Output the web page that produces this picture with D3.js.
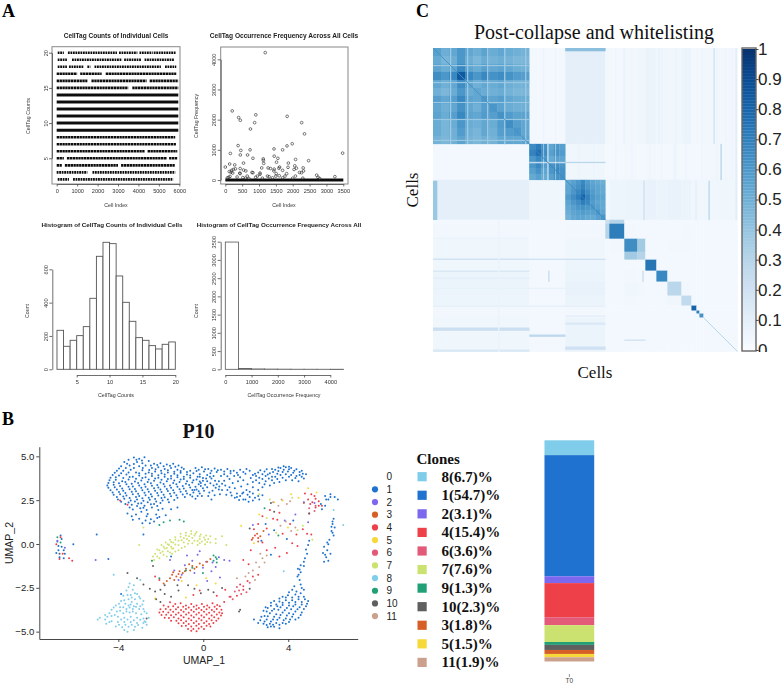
<!DOCTYPE html>
<html><head><meta charset="utf-8">
<script src="https://d3js.org/d3.v7.min.js"></script>
<style>html,body{margin:0;background:#fff}svg{display:block}
text{font-family:"Liberation Sans",Arial,sans-serif}
.serif{font-family:"Liberation Serif",serif}</style></head><body>
<script>
// ---------- Panel A data ----------
const countLevels=[20,19,18,17,16,15,14,13,12,11,10,9,8,7,6,5,4,3,2];
const countRuns=[
[[50,350],[550,2950],[3050,3950],[4050,4700],[4750,5850]],
[[50,500],[750,3200],[3300,4150],[4300,5750]],
[[50,500],[600,1300],[1500,1650],[1850,5100],[5300,5850]],
[[0,1000],[1150,2200],[2400,5850]],
[[0,1500],[1700,4400],[4550,5950]],
[[0,3500],[3700,5950]],
[[0,5950]],[[0,5950]],[[0,5950]],[[0,5950]],[[0,5950]],[[0,5950]],
[[0,5800]],[[0,5850]],
[[0,4300],[4450,5900]],
[[0,350],[500,5400],[5500,5900]],
[[0,250],[400,3000],[3150,5800]],
[[0,1500],[1750,5800]],
[[50,600],[800,5700]]];
const denseLevels=[14,13,12,11,10,9];
const freqX=[1185,205,395,445,905,870,745,1835,2265,2350,380,460,445,150,735,660,820,1445,1700,1830,1985,3480,2470,2085,1125,1130,1140,1450,1560,1520,1870,540,130,280,0,1080,1270,1340,1450,1610,1590,1700,1860,2040,2060,2110,2310,2320,2200,2260,2710,2750,3250,120,170,220,430,440,190,240,300,440,540,610,790,820,1030,1030,950,650,1250,1300,1440,1500,1510,1600,1820,1770,2080,100,140,60,350,520,600,700,900,1100,1400,1700,2000,2300,2800];
const freqY=[4220,2290,2070,1980,2160,1900,1690,2110,1900,1530,1140,980,830,880,1000,830,720,1030,1000,1130,1200,890,640,680,700,650,550,790,720,590,560,560,530,500,430,400,400,380,360,430,390,320,420,350,470,390,400,300,250,240,160,90,110,280,260,230,230,210,320,350,370,380,330,300,250,240,230,190,130,130,130,110,300,130,210,140,210,130,130,90,120,70,100,80,60,50,90,60,70,70,60,60,50];
const freqBand=[0,3500];
const histCounts=[234,138,174,202,256,426,678,762,754,560,402,288,190,174,142,122,150,164];
const histCountEdges=d3.range(2,20);
const histFreq=[3490,22,10,6,4,2,2,1,1];
const histFreqEdges=[0,500,1000,1500,2000,2500,3000,3500,4000];

// ---------- Panel C data ----------
const heatEdges=[0,96,132,172,176,191,204,212,223,234,248,258,263,266,270,304];
const heatMeans=[
[0,2,9,3,2,3,4,6,4,4,5,3,3,3,3],
[2,0,4,2,2,3,2,3,2,2,2,2,2,2,3],
[9,4,0,2,5,6,6,7,6,7,6,4,4,4,4],
[2,2,2,22,30,2,2,2,2,2,2,2,2,2,2],
[3,2,3,30,70,3,2,2,2,2,3,2,2,2,2],
[4,2,4,2,3,64,36,2,2,3,3,2,2,2,2],
[4,2,4,2,2,36,30,2,2,2,2,2,2,2,2],
[4,2,5,2,2,2,2,74,2,2,2,2,2,2,2],
[6,2,6,2,2,3,2,2,66,2,2,2,2,2,2],
[6,2,7,2,2,4,3,2,2,28,3,2,2,2,2],
[5,2,6,2,2,3,2,2,2,4,26,2,2,2,2],
[3,2,3,2,2,2,2,2,2,2,2,80,2,2,2],
[3,2,3,2,2,2,2,2,2,2,2,2,70,2,2],
[3,2,3,2,2,2,2,2,2,2,2,2,2,62,2],
[4,2,6,2,2,2,2,2,2,2,2,2,2,2,2]];
const blockA=[
[56,50,53,60,53,50,55,51,53,51,49,48],
[52,47,50,60,50,46,51,48,50,48,46,46],
[55,51,54,66,55,51,56,53,55,53,50,49],
[64,60,66,84,66,60,66,62,64,62,58,57],
[53,49,53,64,55,49,53,51,53,50,48,48],
[49,46,51,60,51,53,51,49,51,48,46,46],
[57,53,57,66,55,53,60,55,57,53,51,51],
[53,49,53,62,53,49,57,60,55,51,49,49],
[55,51,57,66,55,53,58,57,62,58,55,55],
[51,47,51,60,51,49,53,51,58,64,57,53],
[51,47,49,58,49,47,53,49,57,58,60,53],
[48,46,49,55,48,46,49,48,53,53,53,55]];
const blockB=[[64,70,62,54,60,56],[68,76,64,56,62,58],[60,66,60,52,56,54],[60,66,58,62,64,60],[56,62,54,60,66,62],[52,56,52,56,62,62]];
const blockC=[
[52,56,60,66,58,54,52,50],[54,58,62,68,60,56,54,52],[54,60,66,72,64,58,54,52],[58,64,70,80,68,60,56,54],
[54,60,64,70,66,58,54,52],[52,56,60,62,60,60,56,52],[50,54,56,58,56,56,60,54],[48,52,54,54,52,52,56,60]];
const blockRanges=[[0,96],[96,132],[132,172]];
// [horizontal?, position, from, to, thickness, value]
const heatLines=[
[1,211,0,172,1,20],[1,223,0,96,1,16],[0,115,223,234,1,24],[0,209,223,234,1,24],
[1,280,0,96,3,22],[1,287,96,132,2,27],[1,299,132,172,3,20],[1,302,0,96,2,15],[1,275,132,172,2,14],
[1,292,191,212,1,20],[0,0,133,172,4,38],[1,0,132,172,3,42],[0,287,96,132,1,30],[0,280,0,96,1,20],
[0,275,133,172,1,28],[0,210,133,172,1,22],[1,114,132,172,1,28],[0,302,0,172,1,12],
[1,258,0,172,1,9],[1,240,0,172,1,8],[1,268,132,172,1,10],[1,230,0,96,1,10],[0,65,172,304,1,6],
[0,190,0,96,1,7],[0,225,0,96,1,8],[0,255,0,96,1,7],[0,240,96,132,1,6],[0,262,133,172,1,9]];
const heatStripes=[17,34,54,71,92];
const heatDiag=[[0,96,62],[96,132,66],[132,172,66],[270,304,32]];
const heatFaintCols=[110,122,145,160,182,198,216,228,242,252,268,283,292,298,20,40,60,80];
const colorTicks=[0,.1,.2,.3,.4,.5,.6,.7,.8,.9,1];

// ---------- Panel B data ----------
const umapTicksX=[-4,0,4];
const umapTicksY=[-5,-2.5,0,2.5,5];
const legendLabels=["0","1","2","3","4","5","6","7","8","9","10","11"];
const cloneIds=[8,1,2,4,6,7,9,10,3,5,11];
const clonePct=[6.7,54.7,3.1,15.4,3.6,7.6,1.3,2.3,1.8,1.5,1.9];
const colors={1:"#1f72cf",2:"#7b68ee",3:"#d65f27",4:"#ee4049",5:"#f6d83a",6:"#e35a78",7:"#cbe270",8:"#7fcdea",9:"#21a077",10:"#5f5f5f",11:"#cba08c"};
const c1=[-3.3,4.95,-3.05,4.88,-2.8,4.97,-3.55,4.82,-3.75,4.7,-3.15,4.7,-2.6,4.75,-2.35,4.6,-2.05,4.62,-1.75,4.55,-1.45,4.6,-1.2,4.5,-3.9,4.45,-3.5,4.5,-3.05,4.45,-2.75,4.5,-2.45,4.35,-2.15,4.4,-1.85,4.3,-1.55,4.35,-1.25,4.25,-0.95,4.3,-0.65,4.2,-4.1,4.2,-3.8,4.2,-3.45,4.25,-3.2,4.1,-2.9,4.22,-2.6,4.1,-2.3,4.15,-2,4.05,-1.7,4.1,-1.4,4.02,-1.1,4.08,-0.8,3.98,-0.5,4.05,-0.2,4,-4.3,3.95,-4,3.92,-3.65,3.98,-3.35,3.85,-3.05,3.92,-2.75,3.82,-2.45,3.9,-2.15,3.8,-1.85,3.86,-1.55,3.76,-1.25,3.82,-0.95,3.72,-0.65,3.8,-0.35,3.7,-0.05,3.78,-4.45,3.65,-4.15,3.68,-3.85,3.6,-3.55,3.7,-3.25,3.58,-2.95,3.64,-2.65,3.55,-2.35,3.62,-2.05,3.52,-1.75,3.6,-1.45,3.5,-1.15,3.56,-0.85,3.46,-0.55,3.52,-0.25,3.42,-4.55,3.35,-4.25,3.4,-3.95,3.32,-3.65,3.42,-3.35,3.3,-3.05,3.36,-2.75,3.28,-2.45,3.34,-2.15,3.24,-1.85,3.3,-1.55,3.22,-1.25,3.28,-0.95,3.18,-0.65,3.24,-0.35,3.12,-0.05,3.2,-4.4,3.08,-4.1,3.12,-3.8,3.05,-3.5,3.14,-3.2,3.02,-2.9,3.08,-2.6,3,-2.3,3.06,-2,2.98,-1.7,3.04,-1.4,2.94,-1.1,3,-0.8,2.9,-0.5,2.96,-4.25,2.82,-3.95,2.86,-3.65,2.78,-3.35,2.86,-3.05,2.75,-2.75,2.8,-2.45,2.72,-2.15,2.78,-1.85,2.68,-1.55,2.74,-1.25,2.65,-0.9,2.7,-4.05,2.55,-3.75,2.6,-3.45,2.5,-3.15,2.56,-2.85,2.48,-2.55,2.54,-2.25,2.44,-1.95,2.5,-1.65,2.4,-3.7,2.3,-3.4,2.25,-3.1,2.32,-2.8,2.2,-2.5,2.28,-2.2,2.18,-3.35,1.98,-3,2.05,-2.7,1.95,-1.95,2.02,-3.6,1.75,-3.2,1.7,-2.65,1.72,-2.25,1.7,-1.55,2,-1.25,2.1,-3.05,1.45,-2.75,1.35,-2.5,1.42,-2.2,1.5,-2.9,1.2,-2.55,1.2,-2.1,1.55,-1.8,1.65,
-0.4,4.35,-0.1,4.4,0.2,4.3,0.5,4.32,0.8,4.25,1.1,4.3,1.4,4.2,1.7,4.25,0,4.15,0.3,4.05,0.6,4.12,0.95,4,1.25,4.05,1.6,3.95,-0.15,3.5,0.15,3.6,0.35,3.75,0.45,3.35,0.7,3.6,0.15,3.25,0.4,3.05,0.7,3.12,-0.2,2.9,1,3.35,1.25,2.95,1.45,2.65,1.7,2.75,1.95,2.55,2.15,2.7,2.4,2.65,2.15,3,0.2,2.75,-0.4,2.6,
2.3,3.95,2.55,4.1,2.85,4.15,3.1,4.05,3.35,4.25,3.6,4.35,3.85,4.4,4.1,4.35,4.35,4.28,4.6,4.2,4.8,4,2.6,3.8,2.9,3.9,3.2,3.85,3.45,4.02,3.7,4.12,3.95,4.15,4.2,4.08,4.5,3.95,4.7,3.75,2.3,3.55,2.6,3.5,2.9,3.6,3.2,3.65,3.45,3.72,3.7,3.8,4,3.85,4.3,3.78,2.75,3.25,3.1,3.35,1.85,2.95,5.5,2.3,5.7,2.75,5.95,2.85,6.15,2.7,6.3,2.55,5.85,2.55,5.55,2,5.7,2.2,
6.1,1.45,6.05,1.15,6.15,0.95,6,0.75,6.1,0.5,5.9,0.25,5.85,0,5.65,-0.15,5.8,-0.35,5.6,-0.5,5.95,-0.55,5.75,-0.75,5.65,-1,5.85,-0.95,4.95,0.2,4.9,-0.05,4.8,-0.3,4.85,-0.55,4.75,-0.8,4.7,-1,4.55,-1.2,4.42,-1.4,4.55,-1.6,4.4,-1.85,4.5,-2.05,
4.55,-2.3,4.25,-2.4,4.7,-2.6,4.35,-2.7,4,-2.75,4.7,-3,4.45,-3,4.15,-3.05,3.85,-3.05,3.55,-3.1,4.9,-3.25,4.6,-3.3,4.3,-3.3,4,-3.35,3.7,-3.35,3.4,-3.45,3.15,-3.35,4.8,-3.55,4.5,-3.6,4.2,-3.55,3.9,-3.65,3.6,-3.6,3.3,-3.7,3,-3.65,2.8,-3.8,4.6,-3.9,4.3,-3.85,4,-3.95,3.7,-3.9,3.4,-4,3.1,-3.95,2.85,-4.1,4.45,-4.2,4.15,-4.15,3.85,-4.25,3.55,-4.2,3.25,-4.3,2.95,-4.3,2.65,-4.35,2.35,-4.3,4,-4.45,3.7,-4.5,3.4,-4.5,3.1,-4.55,2.8,-4.55,3.55,-4.8,3.3,-4.72,3,-4.75,2.55,-4.5,
-6.75,0.5,-6.85,-0.1,-6.6,-0.35,-6.95,-0.5,-6.8,-0.75,-6.15,0,-2.85,0.55,-4.5,-0.85,-5.05,0.55,-1.55,-0.7,-3.9,-2.85,2.9,1.15,3.3,0.8,2.7,0.2,3.15,-0.6,3.9,0.3,4.2,1.35,4.7,2.4];
const c1b=[-3.18,4.82,-2.92,4.78,-3.62,4.6,-3.3,4.58,-2.9,4.62,-2.5,4.5,-2.2,4.52,-1.9,4.46,-1.6,4.48,-1.35,4.42,-1.05,4.38,-4,4.32,-3.68,4.36,-3.3,4.35,-2.88,4.36,-2.58,4.24,-2.28,4.28,-2.02,4.2,-1.7,4.22,-1.4,4.14,-1.1,4.18,-0.8,4.12,-0.35,4.18,-4.2,4.08,-3.9,4.06,-3.55,4.1,-3.05,4.06,-2.75,4.02,-2.45,4.02,-2.15,3.94,-1.85,3.98,-1.55,3.9,-1.25,3.94,-0.95,3.86,-0.65,3.92,-0.3,3.86,-4.4,3.8,-4.15,3.82,-3.8,3.78,-3.5,3.84,-3.2,3.74,-2.9,3.78,-2.6,3.7,-2.3,3.76,-2,3.68,-1.7,3.72,-1.4,3.64,-1.1,3.7,-0.8,3.6,-0.5,3.66,-0.2,3.58,-4.5,3.5,-4.25,3.54,-4,3.48,-3.7,3.56,-3.4,3.46,-3.1,3.5,-2.8,3.42,-2.5,3.48,-2.2,3.38,-1.9,3.44,-1.6,3.36,-1.3,3.42,-1,3.32,-0.7,3.38,-0.4,3.28,-0.15,3.32,-4.5,3.22,-4.2,3.26,-3.85,3.18,-3.55,3.28,-3.25,3.16,-2.95,3.22,-2.65,3.14,-2.35,3.2,-2.05,3.12,-1.75,3.16,-1.45,3.08,-1.15,3.14,-0.85,3.04,-0.55,3.1,-0.25,3.02,-4.3,2.96,-4,2.98,-3.7,2.92,-3.4,3,-3.1,2.88,-2.8,2.94,-2.5,2.86,-2.2,2.92,-1.9,2.82,-1.6,2.88,-1.3,2.8,-1,2.84,-0.65,2.82,-4.1,2.7,-3.8,2.72,-3.5,2.64,-3.2,2.7,-2.9,2.62,-2.6,2.66,-2.3,2.58,-2,2.64,-1.7,2.55,-1.4,2.52,-3.9,2.42,-3.55,2.38,-3.25,2.44,-2.95,2.34,-2.65,2.4,-2.35,2.3,-2.05,2.35,-3.5,2.1,-3.15,2.18,-2.85,2.08,-2.45,2.1,-2.15,1.95,-3.4,1.6,-2.95,1.85,-3.35,1.4,-2.35,1.3,-2.7,1.6,
-0.25,4.25,0.05,4.28,0.35,4.2,0.65,4.22,0.95,4.15,1.25,4.18,1.55,4.08,1.85,4.12,0.15,3.95,0.45,3.9,0.8,3.9,1.1,3.88,0.1,3.75,-0.05,3.62,0.3,3.48,0.6,3.42,0.85,3.45,0,3.05,0.25,2.95,0.55,3.22,0.85,3.1,-0.1,2.75,1.1,3.1,1.55,2.9,1.85,2.55,2.3,2.5,2.55,2.75,
2.45,3.9,2.75,4,3,3.98,3.25,4.12,3.5,4.18,3.75,4.25,4,4.28,4.25,4.2,4.5,4.12,4.65,4.02,2.45,3.65,2.75,3.72,3.05,3.75,3.35,3.85,3.6,3.95,3.85,4,4.1,3.95,4.35,3.9,4.6,3.85,2.85,3.42,3.3,3.5,3.55,3.55,3.85,3.65,4.15,3.65,4.45,3.6,
4.6,-2.5,4.15,-2.6,4.55,-2.8,3.95,-2.92,4.3,-2.88,3.7,-3,4.75,-3.15,4.45,-3.15,4.15,-3.2,3.85,-3.2,3.55,-3.28,3.3,-3.25,4.85,-3.4,4.6,-3.45,4.3,-3.45,4,-3.5,3.7,-3.48,3.45,-3.55,3.15,-3.52,2.9,-3.6,4.7,-3.7,4.4,-3.72,4.1,-3.72,3.8,-3.78,3.5,-3.75,3.2,-3.8,2.95,-3.85,4.55,-4.05,4.2,-4,3.9,-4.08,3.6,-4.05,3.3,-4.15,3,-4.12,2.7,-4.15,4.3,-4.3,4.05,-4.3,3.75,-4.35,3.45,-4.32,3.15,-4.42,2.85,-4.42,3.55,-4.6,3.25,-4.6,2.95,-4.62,3.85,-4.55,3.15,-4.7,
-6.7,0.3,-6.9,0.15,-6.7,-0.15,-6.55,-0.55,-6.85,-0.35,-6.6,-0.8,5.75,2.55,5.95,2.7,6.05,1.3,6,1,6.05,0.65,5.8,0.1,5.7,-0.6,4.7,-1.25,4.5,-1.45,4.45,-1.75];
// middle stretch of the upper band, between the left blob and the right arm
const c1c=[-0.45,3.1,-0.2,3.85,0.05,3.4,0.28,3.85,0.52,3.62,0.72,3.3,0.95,3.62,1.2,3.72,1.42,3.9,1.7,3.82,1.95,4.02,2.15,4.2,2.2,3.78,2.4,4.02,1.35,3.5,1.6,3.6,1.85,3.65,2.05,3.42,2.3,3.25,1.2,3.25,1.45,3.2,1.75,3.3,2,3.1,2.55,3.1,1.05,2.82,1.3,2.78,1.55,2.7,1.8,2.9,2.05,2.82,2.3,2.9,2.6,2.55,2.75,2.8,1.65,2.52,2.1,2.42,0.5,2.8,0.75,2.85,0.35,2.55,-0.3,2.75,-0.55,2.72,2,4.3,2.65,4.22,2.95,4.28,3.2,4.3,3.5,4.38,3.75,4.45,4,4.42];
const c2=[-1.4,-1.5,-1.2,-2.05,-0.9,-1.2,-0.8,-0.65,-0.55,-0.95,-0.3,-0.6,-0.05,-1.35,0.1,-1,0.35,-1.55,0.55,-1.3,0.7,-0.75,0.95,-0.9,-1.6,-0.9,-1.05,-1.75,-0.45,-1.65,-0.2,-0.4,0.4,-1.05,0.75,-1.9,0.15,-2.1,1.2,-0.95,2.3,1.1,3.05,0.55,3.8,1.35,4.3,1.7,4.9,1.25,5.2,2.35,-6.55,-0.2,-6.9,0.2,-5.1,-0.9];
const c3=[-1.9,-2.25,-1.75,-2.1,-1.6,-1.95,-1.5,-1.75,-1.3,-1.85,-1.15,-1.55,-1,-1.65,-0.85,-1.4,-0.65,-1.5,-0.55,-1.25,-0.35,-1.3,-0.2,-1.1,-0.05,-1.2,0.15,-1,-0.7,-1.15,-1.1,-1.9,-1.4,-2.05,2.3,0.35,2.5,0.6,2.65,0.45,2.55,0.15,2.8,0.75,0.3,-0.85,-0.9,-1.55,-0.45,-1.4,-1.2,-1.7,-1.45,-1.6];
const c4=[-1.6,-3.32,-1.35,-3.42,-1.1,-3.38,-0.85,-3.5,-0.6,-3.42,-0.35,-3.5,-0.1,-3.42,0.15,-3.5,0.4,-3.38,0.62,-3.48,
-1.9,-3.5,-1.68,-3.58,-1.45,-3.55,-1.22,-3.6,-0.98,-3.58,-0.72,-3.62,-0.48,-3.58,-0.24,-3.64,0,-3.58,0.25,-3.62,0.5,-3.58,0.74,-3.55,
-2.05,-3.72,-1.8,-3.7,-1.58,-3.74,-1.32,-3.72,-1.08,-3.76,-0.85,-3.7,-0.6,-3.76,-0.36,-3.72,-0.12,-3.76,0.12,-3.72,0.37,-3.76,0.6,-3.7,0.82,-3.74,
-2.1,-3.9,-1.92,-3.86,-1.68,-3.9,-1.45,-3.86,-1.2,-3.92,-0.96,-3.86,-0.72,-3.92,-0.48,-3.86,-0.24,-3.92,0,-3.86,0.24,-3.92,0.48,-3.86,0.72,-3.9,0.85,-3.95,
-2,-4.05,-1.78,-4.03,-1.55,-4.06,-1.32,-4.02,-1.08,-4.08,-0.84,-4.02,-0.6,-4.08,-0.36,-4.02,-0.12,-4.08,0.12,-4.02,0.36,-4.08,0.6,-4.02,0.8,-4.08,
-1.85,-4.2,-1.65,-4.22,-1.42,-4.18,-1.2,-4.24,-0.96,-4.18,-0.72,-4.24,-0.48,-4.18,-0.24,-4.24,0,-4.18,0.24,-4.24,0.48,-4.18,0.68,-4.24,
-1.55,-4.38,-1.3,-4.38,-1.08,-4.34,-0.84,-4.4,-0.6,-4.34,-0.36,-4.4,-0.12,-4.34,0.12,-4.4,0.36,-4.34,0.58,-4.38,
-1.2,-4.52,-0.96,-4.5,-0.72,-4.56,-0.48,-4.5,-0.24,-4.56,0,-4.5,0.24,-4.56,0.44,-4.5,
-1.05,-4.68,-0.85,-4.66,-0.6,-4.7,-0.36,-4.66,-0.12,-4.72,0.12,-4.66,0.3,-4.7,-0.75,-4.84,-0.5,-4.84,-0.25,-4.82,0,-4.85,-0.6,-4.95,-0.35,-4.97,
0.95,-3.3,1.25,-3,1.55,-2.95,1.85,-2.6,2.05,-2.1,2.3,-1.85,2.55,-1.75,1.7,-2.3,
2.55,1.15,2.75,1.6,3.1,1.95,3.25,1.45,3.55,1.8,3.7,0.6,4.05,1.15,4.35,0.55,4.65,0.85,4.85,0.6,5.05,0.55,4.95,1.75,5.1,2.4,5.25,2.6,5.4,2.45,5.55,2.2,5.25,2.1,5.05,2.85,4.75,2.9,2.35,0.85,2.55,0.35,2.75,0.1,2.95,-0.35,3.35,-0.2,3.55,-0.7,3.9,-0.5,4.15,0.05,4.4,-0.1,2.2,-0.35,1.85,-0.9,2.1,-1.15,-0.2,-2.65,-0.5,-2.9,0.6,-2.95,1,-2.6,
-6.75,0.4,-6.95,0,-6.65,-0.55,-6.8,-0.85,-6.35,-0.8,-6.2,-0.95,-3.95,2.5,-3.6,2.25,-2.3,-1.85,-2.1,-2.05,5,2.3,5.2,2.75,5.4,2.2,4.9,2.55,3.45,1.4,2.4,0.5,2.25,0.25,2.95,0.9];
const c5=[4.1,2.85,4.45,2.65,4.9,3.2,5.3,2.95,3.7,2.5,3.95,0.95,3.3,2.4,2.6,1.7,2.35,0.05,1.75,1.05,0.1,-1.95,-0.35,-2.35,0.55,-2.25,-1.05,-2.1,-2.3,-3.1,-1.5,-0.25,-0.85,-3.05];
const c6=[1.2,-3,1.45,-2.7,1.65,-2.65,1.85,-2.4,2,-2.75,1.75,-2.85,1.55,-2.45,2.15,-2.2,1.35,-3.15,5.25,2.2,4.95,2.05,5.2,1.9,4.7,2.35];
const c7=[-2.45,-0.95,-2.4,-0.7,-2.3,-0.55,-2.2,-0.3,-2,-0.05,-1.8,0.1,-1.6,0.25,-1.35,0.4,-1.1,0.6,-0.85,0.65,-0.6,0.75,-0.35,0.7,-0.15,0.55,0.1,0.5,0.3,0.45,0.55,0.3,0.85,0.45,-2.35,-0.9,-2.2,-0.7,-2.05,-0.5,-1.85,-0.25,-1.65,-0.05,-1.45,0.1,-1.2,0.2,-0.95,0.35,-0.7,0.45,-0.45,0.5,-0.2,0.3,0.05,0.25,0.3,0.1,0.55,0.05,-2.1,-0.8,-1.9,-0.6,-1.7,-0.4,-1.45,-0.25,-1.2,-0.05,-0.95,0.1,-0.7,0.2,-0.45,0.2,-0.2,0.05,0.05,0,-1.75,-0.7,-1.5,-0.55,-1.2,-0.35,-0.9,-0.15,
-2.1,-0.35,-1.9,-0.15,-1.7,0,-1.55,0.12,-1.35,0.25,-1.1,0.42,-0.85,0.5,-0.6,0.6,-0.4,0.6,-0.2,0.45,0,0.38,0.2,0.3,-1.95,-0.42,-1.75,-0.22,-1.55,-0.15,-1.35,-0.02,-1.05,0.22,-0.8,0.3,-0.55,0.35,-0.3,0.18,-0.1,0.15,0.15,0.12,-1.6,-0.48,-1.35,-0.42,-1.05,-0.22,-0.75,0.02,-0.55,0.05,-0.3,-0.05,
1.05,-0.05,2.6,2.85,3.1,2.55,3.4,0.65,2.95,1.5,4.65,1.05,4.4,0.8,4.15,2.65,5.1,0.25,-2.85,0.95,-3.05,-0.05];
const c8=[-3.5,-2.25,-3.35,-2.6,-3.65,-2.65,-3.45,-2.9,-3.15,-2.85,-3.8,-2.95,-3.55,-3.15,-3.25,-3.15,-3,-3.1,-3.9,-3.25,-3.7,-3.4,-3.45,-3.45,-3.15,-3.4,-2.9,-3.45,-4.15,-3.5,-3.95,-3.6,-3.65,-3.7,-3.35,-3.7,-3.05,-3.7,-2.85,-3.7,-4.35,-3.75,-4.1,-3.85,-3.8,-3.95,-3.5,-3.9,-3.2,-3.95,-2.95,-4,-2.7,-3.95,-4.65,-4.05,-4.35,-4.1,-4.05,-4.15,-3.75,-4.2,-3.45,-4.15,-3.15,-4.2,-2.85,-4.25,-2.6,-4.2,-4.9,-4.2,-4.65,-4.3,-4.35,-4.4,-4.05,-4.45,-3.75,-4.45,-3.45,-4.45,-3.15,-4.5,-2.85,-4.5,-2.75,-4.45,-2.8,-4.4,-5,-4.3,-4.15,-4.7,-3.85,-4.75,-3.55,-4.72,-3.25,-4.72,-2.9,-4.78,-4.6,-4.55,-3.6,-5,
-3.55,-2.45,-3.3,-2.35,-3.25,-2.8,-3.6,-2.9,-3.4,-3.05,-3.05,-3,-3.75,-3.2,-3.4,-3.3,-2.85,-3.25,-4,-3.4,-3.55,-3.5,-3.3,-3.55,-3,-3.55,-4.25,-3.62,-3.8,-3.6,-3.5,-3.62,-3.2,-3.58,-2.8,-3.85,-4.45,-3.95,-3.95,-3.8,-3.65,-3.85,-3.35,-3.85,-4.55,-4.15,-4.2,-4.05,-3.9,-4.3,-3.6,-4.3,-3.3,-4.35,-3,-4.32,-2.7,-4.6,-4.45,-4.45,-4,-4.6,-3.7,-4.6,-3.4,-4.6,-3.1,-4.62,-3.75,-4.9,-3.3,-4.9,
6.55,1.1,6.1,1.95,3.75,-1.55,-4.25,-1.75,-3,-2.05];
const c9=[-1.9,1.25,-2.1,1.1,-1.6,1.35,-1.15,1.4,-0.95,1.3,-2.45,-0.95,-2.1,-1.95,-0.85,-1.5,-0.55,-1.35,0.6,-0.85,0.45,-0.65,0.6,-1.05,-0.05,-1.65,3.5,0.5,2.85,2.05,-6.75,0.1,-6.9,0.4,0.45,-0.95,0.55,-0.75];
const c10=[-3.6,-1.65,-3.15,-1.95,-2.85,-2.3,-2.55,-2.55,-2.3,-2.7,-2.05,-2.6,-1.85,-2.85,-2.25,-3.15,-2.05,-3.3,-1.55,-3,-1.2,-2.65,-0.75,-2.35,-0.45,-2.55,-0.15,-2.8,0.2,-2.6,0.45,-2.75,0.85,-2.5,-2.7,-4.25,1.7,-3.75,1.65,-3.85,2.15,-2.55,3.3,1.85,4.95,1.75,2.15,0.9,3.15,2.35,-2.4,-1.25,-6.8,-0.55,-1.85,-2.35,-1.25,-2.35];
const c11=[2.75,-0.8,2.85,-1.05,2.6,-1.3,2.45,-1.05,2.95,-0.65,2.3,-1.5,2.1,-1.65,1.95,-1.85,2.65,-0.55,3.25,2.4,3.5,2.2,3.65,2.55,3.9,2.3,4.05,2.45,3.6,1.05,3.85,1.3,4.3,0.95,4.1,0.75,1.55,-1.95,2.4,-2.05];
const clusters={1:c1.concat(c1b,c1c),2:c2,3:c3,4:c4,5:c5,6:c6,7:c7,8:c8,9:c9,10:c10,11:c11};

// ---------- drawing ----------
const svg=d3.select("body").append("svg").attr("width",784).attr("height",686);
const defs=svg.append("defs");
const blur=(id,s)=>defs.append("filter").attr("id",id).attr("x","-5%").attr("y","-5%").attr("width","110%").attr("height","110%").append("feGaussianBlur").attr("stdDeviation",s);
blur("blurA",.42);blur("blurC",.55);blur("blurU",.2);
const panelLetter=(t,x,y)=>svg.append("text").attr("class","serif").attr("x",x).attr("y",y).attr("font-size",18).attr("font-weight","bold").text(t);
panelLetter("A",2,17);panelLetter("B",2,425);panelLetter("C",416,17);

const A=svg.append("g").attr("filter","url(#blurA)");
const ink="#4a4a4a";
const plain=d=>d;
function styleAxis(g,rot){
  g.selectAll("path,line").attr("stroke",ink).attr("stroke-width",.8);
  g.selectAll("text").attr("fill","#333").attr("font-size",5.6).style("font-family",'"Liberation Sans"');
  if(rot) g.selectAll("text").attr("transform","rotate(-90)").attr("text-anchor","middle").attr("x",0).attr("y",-4.5).attr("dy",0);
}
function axisPair(xs,ys,xt,yt,xAt,yAt){
  A.append("g").attr("transform",`translate(0,${xAt})`).call(d3.axisBottom(xs).tickValues(xt).tickFormat(plain).tickSize(2.5).tickPadding(2.5).tickSizeOuter(0)).call(styleAxis,false);
  A.append("g").attr("transform",`translate(${yAt},0)`).call(d3.axisLeft(ys).tickValues(yt).tickFormat(plain).tickSize(3).tickSizeOuter(0)).call(styleAxis,true);
}
function labels(title,tx,ty,size,xl,xlx,xly,yl,ylx,yly,clip){
  const t=A.append("text").attr("x",tx).attr("y",ty).attr("text-anchor","middle").attr("font-size",size).attr("font-weight","bold").attr("fill","#222").text(title);
  if(clip) t.attr("clip-path",clip);
  A.append("text").attr("x",xlx).attr("y",xly).attr("text-anchor","middle").attr("font-size",5.3).attr("fill","#333").text(xl);
  A.append("text").attr("transform",`translate(${ylx},${yly}) rotate(-90)`).attr("text-anchor","middle").attr("font-size",5.3).attr("fill","#333").text(yl);
}
const box=(x,y,w,h)=>A.append("rect").attr("x",x).attr("y",y).attr("width",w).attr("height",h).attr("fill","none").attr("stroke","#888").attr("stroke-width",1);

// Scatter of counts
const x1=d3.scaleLinear().domain([0,6000]).range([56.7,179.3]);
const y1=d3.scaleLinear().domain([5,20]).range([158.3,52.7]);
box(52,46.7,128,137.3);
countLevels.forEach((lv,i)=>{
  A.append("g").selectAll("line").data(countRuns[i]).join("line")
   .attr("x1",d=>x1(d[0])).attr("x2",d=>x1(d[1])).attr("y1",y1(lv)).attr("y2",y1(lv))
   .attr("stroke","#111").attr("stroke-width",denseLevels.includes(lv)?3:2.6)
   .attr("stroke-dasharray",denseLevels.includes(lv)?null:(lv>=18||lv<=3?"1.8 .7":"2.4 .45"));
});
axisPair(x1,y1,d3.range(0,6001,1000),[5,10,15,20],184,52);
labels("CellTag Counts of Individual Cells",116,38,6.5,"Cell Index",116,207,"CellTag Counts",30,116);

// Scatter of frequency
const x2=d3.scaleLinear().domain([0,3500]).range([225.3,343.3]);
const y2=d3.scaleLinear().domain([0,4000]).range([180,59.3]);
box(220.7,47,127.3,137);
A.append("line").attr("x1",x2(freqBand[0])).attr("x2",x2(freqBand[1])).attr("y1",y2(0)).attr("y2",y2(0)).attr("stroke","#111").attr("stroke-width",3.2);
A.append("g").selectAll("circle").data(freqX).join("circle").attr("cx",d=>x2(d)).attr("cy",(d,i)=>y2(freqY[i])).attr("r",1.35).attr("fill","none").attr("stroke","#222").attr("stroke-width",.6);
axisPair(x2,y2,d3.range(0,3501,500),[0,1000,2000,3000,4000],184,220.7);
labels("CellTag Occurrence Frequency Across All Cells",284,38,6.6,"Cell Index",284,207,"CellTag Frequency",198,116);

// Histogram of counts
const hx1=d3.scaleLinear().domain([5,20]).range([76.7,175.3]);
const hy1=d3.scaleLinear().domain([0,600]).range([369.3,269.3]);
A.append("g").selectAll("rect").data(histCounts).join("rect")
 .attr("x",(d,i)=>hx1(histCountEdges[i])).attr("width",hx1(3)-hx1(2)).attr("y",d=>hy1(d)).attr("height",d=>hy1(0)-hy1(d))
 .attr("fill","#fff").attr("stroke","#555").attr("stroke-width",.9);
axisPair(hx1,hy1,[5,10,15,20],[0,200,400,600],375,52.3);
labels("Histogram of CellTag Counts of Individual Cells",112,227,6.25,"CellTag Counts",116,397,"Count",29,311);

// Histogram of frequency
const hx2=d3.scaleLinear().domain([0,4000]).range([225.3,330.3]);
const hy2=d3.scaleLinear().domain([0,3500]).range([369.3,241.7]);
A.append("g").selectAll("rect").data(histFreq).join("rect")
 .attr("x",(d,i)=>hx2(histFreqEdges[i]||0)).attr("width",hx2(500)-hx2(0)).attr("y",d=>hy2(d)).attr("height",d=>hy2(0)-hy2(d))
 .attr("fill","#fff").attr("stroke","#555").attr("stroke-width",.8);
A.selectAll(null).data([0]).join("rect").attr("x",hx2(4000)).attr("width",hx2(4500)-hx2(4000)).attr("y",hy2(1)).attr("height",hy2(0)-hy2(1)).attr("fill","#fff").attr("stroke","#666").attr("stroke-width",.6);
axisPair(hx2,hy2,d3.range(0,4001,1000),d3.range(0,3501,500),375,220.7);
defs.append("clipPath").attr("id","histClip").append("rect").attr("x",193.5).attr("y",215).attr("width",200).attr("height",20);
labels("Histogram of CellTag Occurrence Frequency Across All",279,227,6.25,"CellTag Occurrence Frequency",284,397,"Count",198,311,"url(#histClip)");

// Heatmap
const H=svg.append("g").attr("filter","url(#blurC)");
const hp=d3.scaleLinear().domain([0,304]).range([433,737.5]);
const hq=d3.scaleLinear().domain([0,304]).range([48,351.5]);
const col=d3.scaleSequential(d3.interpolateBlues).domain([0,100]);
const cellRect=(x0,x1_,y0,y1_,v,g)=>(g||H).append("rect").attr("x",hp(x0)).attr("width",hp(x1_)-hp(x0)+.3).attr("y",hq(y0)).attr("height",hq(y1_)-hq(y0)+.3).attr("fill",col(v));
heatMeans.forEach((row,r)=>row.forEach((v,c)=>{
  if(r===c&&r<3) return;
  cellRect(heatEdges[c],heatEdges[c+1],heatEdges[r],heatEdges[r+1],v);
}));
[blockA,blockB,blockC].forEach((m,k)=>{
  const [lo,hi]=blockRanges[k],st=(hi-lo)/m.length;
  m.forEach((row,r)=>row.forEach((v,c)=>cellRect(lo+c*st,lo+(c+1)*st,lo+r*st,lo+(r+1)*st,v)));
});
heatStripes.forEach(p=>{cellRect(p,p+.9,0,96,36);cellRect(0,96,p,p+.9,38);});
cellRect(114,115.2,96,132,26);cellRect(96,132,114,115.2,26);
heatFaintCols.forEach(p=>{ if(p>96) H.append("rect").attr("x",hp(p)).attr("y",hq(0)).attr("width",.9).attr("height",hq(132)-hq(0)).attr("fill",col(8)).attr("opacity",.6);
  else H.append("rect").attr("x",hp(0)).attr("y",hq(p+130)).attr("width",hp(96)-hp(0)).attr("height",.9).attr("fill",col(8)).attr("opacity",.6);});
heatLines.forEach(([hz,p,a,b,t,v])=> hz?cellRect(a,b,p,p+t,v):cellRect(p,p+t,a,b,v));
H.append("g").selectAll("line").data(heatDiag).join("line").attr("x1",d=>hp(d[0])).attr("x2",d=>hp(d[1])).attr("y1",d=>hq(d[0])).attr("y2",d=>hq(d[1])).attr("stroke",d=>col(d[2])).attr("stroke-width",.9);

// Colour bar
const cbY=d3.scaleLinear().domain([0,1]).range([350,49]);
const CB=svg.append("g");
defs.append("clipPath").attr("id","cbClip").append("rect").attr("x",-2).attr("y",30).attr("width",40).attr("height",322);
CB.selectAll("rect").data(d3.range(0,1,.01)).join("rect").attr("x",742).attr("width",14).attr("y",d=>cbY(d+.01)).attr("height",cbY(0)-cbY(.0108)).attr("fill",d=>col(d*100));
CB.append("rect").attr("x",742).attr("y",48).attr("width",14).attr("height",303).attr("fill","none").attr("stroke","#666").attr("stroke-width",1.4);
const cbAx=CB.append("g").attr("transform","translate(756,0)").attr("clip-path","url(#cbClip)").call(d3.axisRight(cbY).tickValues(colorTicks).tickFormat(d=>d).tickSize(2.5).tickPadding(-1));
cbAx.select("path").remove();
cbAx.selectAll("line").attr("stroke","#444");
cbAx.selectAll("text").attr("font-size",17).attr("fill","#222").attr("x",2).style("font-family",'"Liberation Sans"');
svg.append("text").attr("class","serif").attr("x",594).attr("y",39).attr("text-anchor","middle").attr("font-size",20).attr("fill","#111").text("Post-collapse and whitelisting");
svg.append("text").attr("class","serif").attr("x",595).attr("y",378).attr("text-anchor","middle").attr("font-size",17).attr("fill","#111").text("Cells");
svg.append("text").attr("class","serif").attr("transform","translate(418,190) rotate(-90)").attr("text-anchor","middle").attr("font-size",17).attr("fill","#111").text("Cells");

// UMAP
const ux=d3.scaleLinear().domain([-4,4]).range([119,289]);
const uy=d3.scaleLinear().domain([-5,5]).range([631.7,456.7]);
const U=svg.append("g");
const D=U.append("g").attr("filter","url(#blurU)");
Object.entries(clusters).forEach(([k,a])=>{
  const pts=d3.range(0,a.length,2).map(i=>[a[i],a[i+1]]);
  D.append("g").selectAll("circle").data(pts).join("circle").attr("cx",d=>ux(d[0])).attr("cy",d=>uy(d[1])).attr("r",1).attr("fill",colors[k]);
});
const uAxX=ux.copy().domain([-7.72,7.27]).range([39.3,357.7]);
const uGx=U.append("g").attr("transform","translate(0,639)").call(d3.axisBottom(uAxX).tickValues(umapTicksX).tickSize(3).tickPadding(2).tickSizeOuter(0));
const uAxY=uy.copy().domain([-5.42,5.55]).range([639,446.7]);
const uGy=U.append("g").attr("transform","translate(39.3,0)").call(d3.axisLeft(uAxY).tickValues(umapTicksY).tickFormat(d3.format(".1f")).tickSize(3).tickPadding(2).tickSizeOuter(0));
[uGx,uGy].forEach(g=>{g.selectAll("path,line").attr("stroke","#333").attr("stroke-width",.9);g.selectAll("text").attr("font-size",9.6).attr("fill","#222").style("font-family",'"Liberation Sans"');});
U.append("text").attr("x",204).attr("y",664).attr("text-anchor","middle").attr("font-size",10.5).attr("fill","#222").text("UMAP_1");
U.append("text").attr("transform","translate(13,543) rotate(-90)").attr("text-anchor","middle").attr("font-size",10.5).attr("fill","#222").text("UMAP_2");
U.append("text").attr("class","serif").attr("x",198.5).attr("y",438).attr("text-anchor","middle").attr("font-size",20).attr("font-weight","bold").attr("fill","#111").text("P10");
const lg=U.append("g").selectAll("g").data(legendLabels).join("g").attr("transform",(d,i)=>`translate(375,${476.7+i*12.67})`);
lg.filter(d=>d!=="0").append("circle").attr("r",3.1).attr("fill",d=>colors[d]);
lg.append("text").attr("x",11.5).attr("y",3.5).attr("font-size",10).attr("fill","#222").text(d=>d);

// Clones legend and stacked bar
svg.append("text").attr("class","serif").attr("x",416.5).attr("y",464).attr("font-size",15).attr("font-weight","bold").attr("fill","#111").text("Clones");
const cg=svg.append("g").selectAll("g").data(cloneIds).join("g").attr("transform",(d,i)=>`translate(417.5,${476.7+i*18.57})`);
cg.append("rect").attr("y",-4.6).attr("width",9.2).attr("height",9.2).attr("fill",d=>colors[d]);
cg.append("text").attr("class","serif").attr("x",24).attr("y",4.8).attr("font-size",15).attr("font-weight","bold").attr("fill","#111").text((d,i)=>`${d}(${clonePct[i]})%`);
const by=d3.scaleLinear().domain([0,100]).range([440.3,661.7]);
const bx=d3.scaleBand().domain(["T0"]).range([541,597.7]).paddingInner(0).paddingOuter(.07);
let acc=0;
const stacked=clonePct.map((p,i)=>{const s={id:cloneIds[i],a:acc,b:acc+p};acc+=p;return s;});
svg.append("g").selectAll("rect").data(stacked).join("rect").attr("x",bx("T0")).attr("width",bx.bandwidth()).attr("y",d=>by(d.a)).attr("height",d=>by(d.b)-by(d.a)).attr("fill",d=>colors[d.id]);
const bAx=svg.append("g").attr("transform","translate(0,674)").call(d3.axisBottom(bx).tickSize(3).tickPadding(1.5));
bAx.select("path").remove();bAx.selectAll("line").attr("stroke","#444").attr("stroke-width",.6);
bAx.selectAll("text").attr("font-size",6.5).attr("fill","#444").style("font-family",'"Liberation Sans"');
</script></body></html>
